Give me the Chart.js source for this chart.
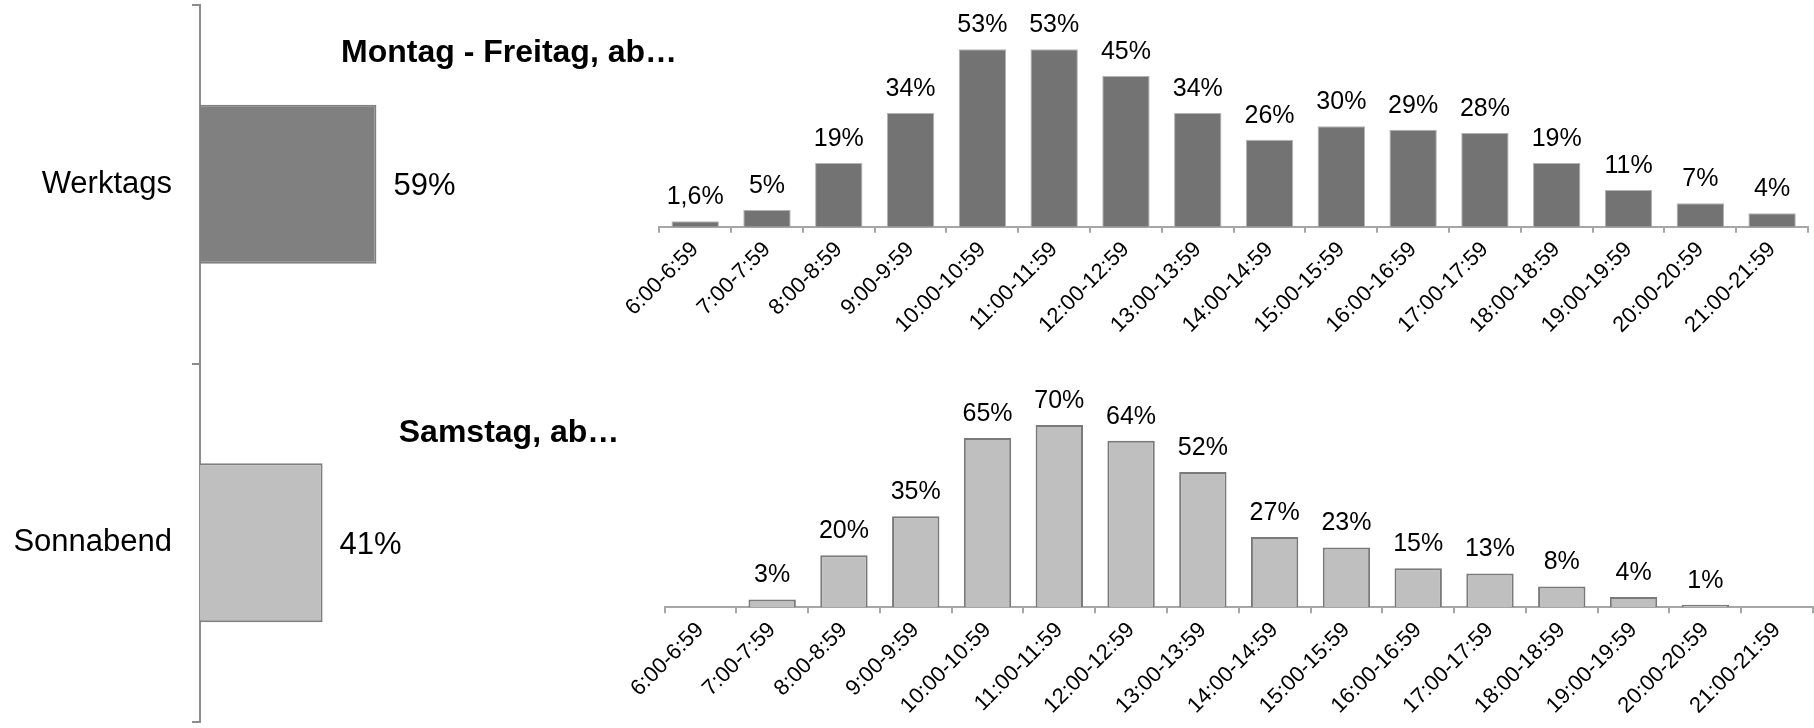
<!DOCTYPE html>
<html lang="de">
<head>
<meta charset="utf-8">
<title>Einkaufszeiten</title>
<script src="https://cdn.jsdelivr.net/npm/chart.js@4.4.1/dist/chart.umd.min.js"></script>
<style>
    html, body { margin: 0; padding: 0; background: #fff; }
    body { width: 1814px; height: 728px; position: relative; overflow: hidden; font-family: 'Liberation Sans', Arial, sans-serif; }
    canvas { position: absolute; }
    .titel { position: absolute; font-size: 32px; font-weight: bold; line-height: 32px; white-space: nowrap; transform: translateX(-50%); color: #000; }
</style>
</head>
<body>
<canvas id="anteilChart" width="499" height="728" style="left:0;top:0"></canvas>
<canvas id="werktagChart" width="1254" height="345" style="left:560px;top:0"></canvas>
<canvas id="samstagChart" width="1254" height="368" style="left:560px;top:360px"></canvas>
<div class="titel" style="left:509px;top:35px">Montag - Freitag, ab…</div>
<div class="titel" style="left:509px;top:415px">Samstag, ab…</div>

<script>
// Daten
const tage = ['Werktags', 'Sonnabend'];
const tageAnteil = [59, 41];

const uhrzeiten = ['6:00-6:59', '7:00-7:59', '8:00-8:59', '9:00-9:59', '10:00-10:59', '11:00-11:59',
    '12:00-12:59', '13:00-13:59', '14:00-14:59', '15:00-15:59', '16:00-16:59', '17:00-17:59',
    '18:00-18:59', '19:00-19:59', '20:00-20:59', '21:00-21:59'];
const werktagWerte = [1.6, 5, 19, 34, 53, 53, 45, 34, 26, 30, 29, 28, 19, 11, 7, 4];
const samstagWerte = [null, 3, 20, 35, 65, 70, 64, 52, 27, 23, 15, 13, 8, 4, 1, null];

const schrift = "'Liberation Sans', Arial, sans-serif";

/**
 * Prozentwert im deutschen Format (1,6%)
 */
function formatProzent(v) {
    return String(v).replace('.', ',') + '%';
}

/**
 * Beschriftet jeden Balken mit seinem Wert
 */
const wertLabels = {
    id: 'wertLabels',
    afterDatasetsDraw(chart, args, opts) {
        const ctx = chart.ctx;
        const meta = chart.getDatasetMeta(0);
        const werte = chart.data.datasets[0].data;
        const horizontal = chart.options.indexAxis === 'y';
        ctx.save();
        ctx.font = opts.groesse + 'px ' + schrift;
        ctx.fillStyle = '#000';
        ctx.textBaseline = 'alphabetic';
        meta.data.forEach(function(bar, i) {
            const v = werte[i];
            if (v === null || v === undefined) return;
            if (horizontal) {
                ctx.textAlign = 'left';
                ctx.fillText(formatProzent(v), bar.x + opts.abstand, bar.y + opts.groesse * 0.36);
            } else {
                ctx.textAlign = 'center';
                ctx.fillText(formatProzent(v), bar.x, bar.y - opts.abstand);
            }
        });
        ctx.restore();
    }
};

// Anteil Werktag / Sonnabend (links)
new Chart(document.getElementById('anteilChart'), {
    type: 'bar',
    data: {
        labels: tage,
        datasets: [{
            data: tageAnteil,
            backgroundColor: ['#808080', '#bfbfbf'],
            borderColor: ['#808080', '#7f7f7f'],
            borderWidth: 2,
            categoryPercentage: 1,
            barPercentage: 0.443
        }]
    },
    options: {
        indexAxis: 'y',
        responsive: false,
        animation: false,
        layout: { padding: { top: 5, bottom: 6, left: 0, right: 0 } },
        plugins: {
            legend: { display: false },
            tooltip: { enabled: false },
            wertLabels: { groesse: 31, abstand: 17 }
        },
        scales: {
            x: { display: false, min: 0, max: 100 },
            y: {
                // feste Breite, kein Extra-Rand oben/unten für die Beschriftung
                afterFit: function(scale) {
                    scale.width = 200;
                    scale.paddingTop = 0;
                    scale.paddingBottom = 0;
                },
                grid: { offset: true, drawOnChartArea: false, tickLength: 8, color: '#8c8c8c', lineWidth: 2 },
                border: { color: '#8c8c8c', width: 2 },
                ticks: { color: '#000', padding: 20, font: { family: schrift, size: 31 } }
            }
        }
    },
    plugins: [wertLabels]
});

/**
 * Säulendiagramm nach Uhrzeit
 */
function zeitChart(id, werte, opts) {
    return new Chart(document.getElementById(id), {
        type: 'bar',
        data: {
            labels: uhrzeiten,
            datasets: [{
                data: werte,
                backgroundColor: opts.fuellung,
                borderColor: opts.rand,
                borderWidth: opts.randBreite,
                categoryPercentage: 1,
                barPercentage: 0.66
            }]
        },
        options: {
            responsive: false,
            animation: false,
            layout: { padding: opts.abstand },
            plugins: {
                legend: { display: false },
                tooltip: { enabled: false },
                wertLabels: { groesse: 25, abstand: 17 }
            },
            scales: {
                y: { display: false, min: 0, max: opts.max },
                x: {
                    afterFit: function(scale) { scale.height = opts.achsenHoehe; },
                    grid: { offset: true, drawOnChartArea: false, tickLength: 6, color: '#a6a6a6', lineWidth: 2 },
                    border: { color: '#a6a6a6', width: 2 },
                    ticks: {
                        color: '#000',
                        autoSkip: false,
                        minRotation: 45,
                        maxRotation: 45,
                        padding: 4,
                        font: { family: schrift, size: 22 }
                    }
                }
            }
        },
        plugins: [wertLabels]
    });
}

zeitChart('werktagChart', werktagWerte, {
    fuellung: '#737373',
    rand: '#b3b3b3',
    randBreite: 1,
    max: 60,
    achsenHoehe: 118.3,
    abstand: { top: 25.9, left: 99.3, right: 6, bottom: 0 }
});

zeitChart('samstagChart', samstagWerte, {
    fuellung: '#bfbfbf',
    rand: '#7a7a7a',
    randBreite: 2,
    max: 80,
    achsenHoehe: 120.7,
    abstand: { top: 39, left: 104.5, right: 1, bottom: 0 }
});
</script>
</body>
</html>
